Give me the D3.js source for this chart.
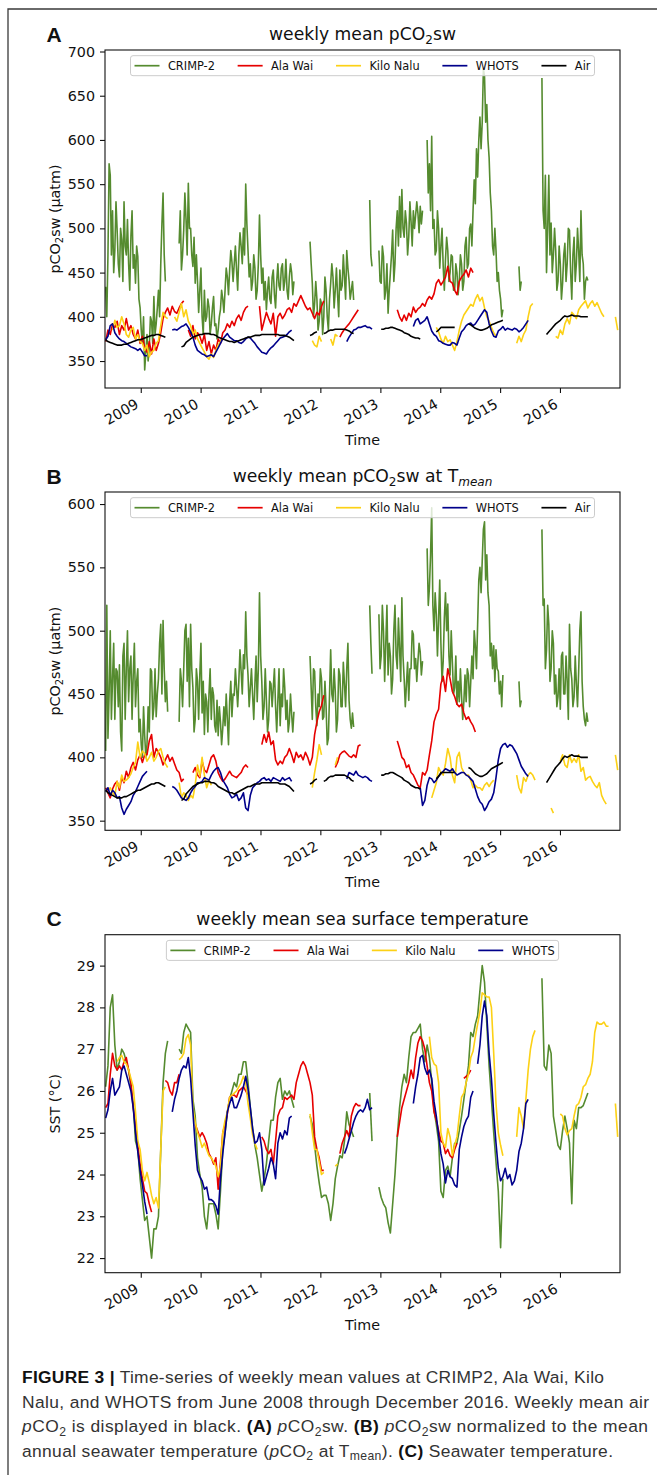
<!DOCTYPE html>
<html>
<head>
<meta charset="utf-8">
<script src="https://cdnjs.cloudflare.com/ajax/libs/d3/7.8.5/d3.min.js"></script>
<style>
html,body{margin:0;padding:0;background:#fff;}
svg{display:block;}
</style>
</head>
<body>
<svg id="fig" width="657" height="1475" xmlns="http://www.w3.org/2000/svg"></svg>
<script>
// ================= DATA =================
const stations = ["CRIMP-2", "Ala Wai", "Kilo Nalu", "WHOTS", "Air"];
const yearTicks = [2009, 2010, 2011, 2012, 2013, 2014, 2015, 2016];
const ticksA = [350, 400, 450, 500, 550, 600, 650, 700];
const ticksB = [350, 400, 450, 500, 550, 600];
const ticksC = [22, 23, 24, 25, 26, 27, 28, 29];
const gridStart = "2008-06-01";   // first sample of the sampling grids
const weeklyStepDays = 7;         // CRIMP-2 pCO2 series (A, B) are listed week by week
const biweeklyStepDays = 14;      // all other series are listed every second week
// every series = list of segments: [index of first grid sample, [values]]

// ---- A: weekly mean pCO2sw (uatm)
const crimpA = [   // weekly grid
  [0, [434,400,470,573,560,470,520,450,475,530,498,460,445,500,487,440,530,480,470,510,460,430,491,520,455,470,438,480,468,420,410,385,370,400,340,360,380,350,365,400,395,370,423,380,392,410,430,400,460,505,540,470,440]],
  [64, [483,520,453,470,498,540,510,470,551,500,500,470,457,490,438,470,440,405,430,455,400,380,430,395,400,420,411,380,392,410,423,390,392,375,385,400,408,430,420,405,430,455,445,425,453,475,462,440,460,480,453,430,470,495,480,460,500,470,550,505,475,445,460,430,440,470,455,420,430,460,515,470,438,455,419,440,408,430,445,420,415,445,453,425,410,440,460,435,430,455,460,430,440,465,430,420,445,460,450,425,440]],
  [178, [485,460,438,400,415,440,420,385,395,420,415,380,400,445,430,400,385,420,438,460,445,410,430,455,425,400,453,430,435,470,445,420,475,455,441,420,430,440,419]],
  [230, [532,470,457]],
  [238, [475,440,438,480,468,420,430,460,404,430,450,470,498,440,460,500,520,480,536,490,544,500,490,520,506,470,490,530,508,480,520,500,515,530,517,495,525,505,520]],
  [280, [600,540,573,520,604,500,510,470,475,520,500,455,480,500,457,430,465,490,475,440,450,470,468,430,430,460,450,425,440,470,460,430,440,480,490,455,460,500,505,480,520,555,528,590,558,600,626,590,620,680,672,620,640,600,580,540,520,480,470,500,475,440,450,430,420,400,408]],
  [360, [457,430,440]],
  [380, [670,520,500,560,450,500,560,470,506,450,470,500,475,430,440,480,460,420,438,470,483,440,460,500,498,450,420,470,490,440,460,500,475,440,520,470,460,420,440,445,441]]
];
const alaWaiA = [
  [0, [372,385,380,392,388,395,380,390,385,398,385,390,380,375,385,370,378,365,360,372,358,375,362,370,382,398,405,410,402,412,406,404,410,415,418]],
  [36, [385,378,390,375,382,378,370,380,362,372,358,368,362,375,370,382,385,392,388,395,390,398,402,396,405,410,412]],
  [67, [412,385,395,405,398,392,404,378,400,404,398,402,408,410,405,415,412,418,424,418,412,408,410,404,398,405,402,412,418]],
  [102, [377,382,386,389,392,396,400,404,408]],
  [127, [408,400,395,402,396,404,400,411,405,409,411,415,412,419,423,420,426,438,442,436,440,445,457,440,438,430,425,440,445,448,453,445,455,450]]
];
const kiloNaluA = [
  [3, [385,396,388,390,400,392,380,377,385,388,375,380,372,370,362,368,355,360,362,370,373,390,405,400,398]],
  [30, [400,395,405,415,400,408,395,390,380,385,375,370,365,360,355,352,358,354,362,368,372,375]],
  [90, [373,368,366,378,372]],
  [98, [375,368,380,378]],
  [144, [388,383,375,370,378,372,374,368,362,372,385,395,402,406,410,414,412,420,425,418,422,410,400,395,388,382,378]],
  [179, [370,378,372,380,385,400,412,415]],
  [196, [378,376,385,380,392,398,392,405,402,398,408,412,415,418,410,415,418,412,416,410,404,400]],
  [222, [400,385]]
];
const whotsA = [
  [0, [374,378,390,392,382,378,375,373,372,370,368,366,365,364,362,364,360,356,356]],
  [29, [385,386,385,387,389,390,392,388,383,377,368,362,360,358,357,355,356,357,355,360,365,370,375,378,381,377,375,373,373,371,370,372,375,377,376,373,370,366,363,360,359,358,362,365,367,370,373,376,377,378,380,383,385]],
  [105, [372,377,381,385,386,388,388,389,390,388,388,386]],
  [134, [389,396,398,392,394,396,400,392,384,380,378,373,372,370,369,368,368,371,370,368,376,383,386,390,392,393,390,392,396,400,404,408,405,392,384,378,377,384,386,389,385,387,386,385,387,386,383,385,388,392,396]]
];
// weekly mean air pCO2 (same series in panels A and B)
const airPCO2 = [
  [0, [374,372,371,370,369,368,368,368,369,369,370,371,372,373,374,374,375,376,377,378,379,379,380,380,379,378,377]],
  [33, [366,367,371,373,375,377,378,379,380,380,381,381,381,380,380,379,377,376,375,374,373,372,372,371,372,373,374,375,376,377,377,378,379,379,379,380,380,380,380,380,380,380,380,379,379,379,378,377,375,373]],
  [89, [379,380,382,383]],
  [95, [381,382,384,385,385,386,386,386,386,386,385,384,382,381]],
  [120, [386,386,387,387,388,388,387,386,385,384,382,381,380,378,377,376,376,375]],
  [144, [383,385,388,388,388,388,388,388,388]],
  [158, [392,391,389,387,386,385,385,386,387,389,391,392,393,394,395,396]],
  [192, [380,383,386,389,392,394,396,399,401,400,401,402,401,401,401,400,400,400,400]]
];

// ---- B: weekly mean pCO2sw at Tmean (uatm)
const crimpB = [   // weekly grid
  [0, [405,520,415,450,500,430,462,490,430,470,468,440,473,420,405,480,490,430,470,500,444,470,480,430,465,490,440,460,470,420,430,410,400,440,417,400,410,440,420,470,468,430,440,470,432,450,462,490,505,450,508,470,444,460,436]],
  [64, [428,470,460,440,470,500,505,460,494,440,505,470,455,420,430,470,460,430,465,490,435,460,418,450,444,420,450,470,430,455,449,425,420,445,417,440,428,410,423,440,425,450,430,410,444,460,432,450,449,470,455,440,460,485,468,450,481,470,515,480,465,440,455,470,449,430,458,480,444,470,530,480,460,430,440,470,445,420,430,460,458,440,455,470,440,420,445,470,425,450,440,470,455,430,445,420,428,450,434,420,436]],
  [178, [480,455,430,470,468,440,425,450,440,470,462,430,432,460,440,410,415,450,485,450,444,470,452,420,430,470,465,440,440,475,458,440,470,490,445,430,423,435,424]],
  [230, [520,490,466]],
  [238, [513,470,480,520,500,460,490,520,465,490,480,450,462,500,520,480,470,510,486,460,526,480,462,440,458,475,445,470,470,500,497,470,478,460,476,490,483,465,476]],
  [280, [565,520,534,560,597,520,500,530,513,480,510,540,490,460,476,510,530,500,521,480,465,500,475,450,455,480,442,460,444,470,448,430,444,465,444,470,465,440,460,480,462,500,488,470,505,540,550,530,555,580,586,540,560,530,520,480,490,470,488,460,485,470,468,450,460,440,465]],
  [360, [460,440,445]],
  [380, [580,520,525,470,485,520,505,460,470,500,490,450,465,440,448,470,438,480,483,450,450,480,460,430,505,470,462,440,448,480,458,440,468,500,515,460,440,430,425,435,428]]
];
const alaWaiB = [
  [0, [376,372,368,375,379,381,374,384,380,389,384,392,396,390,398,402,396,402,402,413,418,400,407,404,400,394,398,402,397,400,395,390,388,381,383]],
  [38, [388,392,386,384,397,390,388,394,400,402,397,388,384,381,383,386,389,386,385,384,386,388,392,394,392]],
  [68, [410,418,412,420,410,413,398,394,397,395,400,402,407,402,396,404,400,402,398,404,400,394,400,418,428,436,441,449]],
  [100, [392,396,402,404,405,403,401,400,402,400,409,410]],
  [127, [413,407,400,398,392,394,388,386,382,378,376,388,386,390,402,413,428,434,438,458,464,452,470,462,452,448,442,440,442,435,430,432,428,425,420]]
];
const kiloNaluB = [
  [1, [374,376,372,370,381,376,386,381,382,384,387,392,396,412,400,405,403,397,400,404,397,400,405,407,400,395,392]],
  [32, [380,368,372,370,366,370,368,378,394,385,400,386,376,382,378]],
  [90, [376,388,398,410,402]],
  [100, [394,400]],
  [142, [368,374,380,392,388,386,395,407,400,386,380,400,404,392,388,386,386,382,376,378,376,376,374,378,380,377,380,382]],
  [179, [386,376,372,384,381,386,388,386,382]],
  [194, [360,356]],
  [198, [397,402,394,392,402,396,399,396,402,389,392,382,384,385,381,378,376,380,370,366,363]],
  [222, [402,390]]
];
const whotsB = [
  [0, [373,376,370,374,372,368,369,360,355,359,362,365,370,373,377,381,385,387,389]],
  [29, [377,376,374,371,368,367,366,368,372,375,377,380,380,381,384,383,382,386,389,391,392,388,382,379,376,371,368,369,371,366,368,372,360,358,370,376,378,380,381,383,384,382,383,381,384,383,382,381,384,382,383,384,381]],
  [105, [383,388,387,386,389,386,385,384,385,384,382,381]],
  [137, [376,362,366,378,384,383,380,382,385,387,389,391,390,389,391,388,386,387,388,388,386,385,383,381,375,369,365,363,358,361,365,367,372,384,398,407,410,411,408,410,409,406,403,398,393,390,387,385]]
];

// ---- C: weekly mean sea surface temperature (degC)
const crimpC = [
  [0, [26.1,26.6,28.0,28.3,27.1,26.5,26.7,27.0,26.9,26.7,26.5,26.1,25.7,24.8,24.6,23.9,23.4,22.9,23.0,22.5,22.0,22.7,22.7,23.0,24.6,26.2,26.9,27.2]],
  [32, [27.0,26.9,27.4,27.6,27.5,27.4,25.8,25.4,24.4,24.0,23.7,23.0,22.7,23.3,23.3,23.3,23.05,22.7,23.6,24.6,25.0,25.5,25.8,26.0,26.2,26.1,26.4,26.4,26.7,26.7,26.2,25.6,25.1,24.7,24.4,24.0,23.6,23.9,24.25,24.8,25.3,25.3,25.85,26.2,26.3,25.8,26.0,25.9,26.0,25.8,25.6]],
  [89, [25.4,25.2,24.7,24.2,23.8,23.45,23.5,23.5,23.3,22.9,23.3,23.9,24.2,24.45,24.4,24.8,25.5,25.2,25.05,24.9]],
  [115, [25.95,24.8]],
  [119, [23.7,23.45,23.3,23.2,22.85,22.6,23.3,24.0,24.9,25.6,26.1,26.4,26.2,26.8,27.3,27.4,27.4,27.5,27.6,27.0,26.7,27.1,26.8,26.2,25.55,25.2,24.8,23.6,23.45,24.1,24.2,23.95,24.4,24.75,24.75,25.05,25.4,25.8,26.2,26.6,27.4,27.3,27.6,27.8,28.4,29.0,28.6,27.6,26.6,25.8,25.0,24.3,23.6,22.25,23.9]],
  [190, [28.7,26.6,26.5,27.1,26.9,25.4,25.05,24.7,24.6,25.05,25.4,25.1,24.75,23.3,25.3,25.1,25.6,25.6,25.65,25.8,25.95]]
];
const alaWaiC = [
  [0, [25.6,25.7,26.4,26.9,26.6,26.5,26.6,26.5,26.7,26.8,26.5,26.2,25.6,25.2,24.7,24.25,23.9,23.6,23.55,23.3,23.1]],
  [26, [26.25,26.2,26.0,25.9,26.2,26.2,26.4]],
  [39, [25.2,25.05,24.9,25.0,24.9,24.75,24.5,24.4,24.25,24.4,23.65,24.3,25.0,25.2,25.45,25.85,25.9,25.9,25.85,26.0,26.05,26.1,26.0,25.9]],
  [68, [24.9,24.8,24.6,24.5,24.6,24.25,24.8,25.4,25.55,25.6,25.85,25.8,25.85,25.9,25.8,26.2,26.4,26.6,26.7,26.6,26.4,26.2,25.9,24.9,24.6,24.4,24.1,24.1]],
  [102, [24.5,24.75,24.9,25.05,24.9,25.4,25.6,25.7,25.65,25.65]],
  [127, [24.9,25.25,25.6,25.8,26.0,26.2,26.5,26.3,26.8,27.15,27.3,27.2,27.0,26.6,26.2,26.0,25.5,25.3,25.05,24.8,24.75,24.5,24.6,24.45,24.4,24.6,24.75]],
  [156, [26.3,26.35,26.4,26.5]]
];
const kiloNaluC = [
  [5, [26.7,26.8,26.85,26.7,26.65,26.5,26.3,26.1,25.5,24.8,24.6,24.1,23.85,24.05,23.8,23.5,23.3,23.45,23.2,24.6,26.0,26.1]],
  [32, [26.75,26.8,26.9,27.25,27.35,27.1,25.6,25.25,25.0,24.85,24.65,24.75,24.6,24.45,24.4,24.3,24.2,23.95,24.2,25.0,25.3,25.5,25.85,25.9,25.95,26.0,26.1,26.2,26.35,26.2,25.7,25.35,24.95,24.75,24.6]],
  [89, [25.45,25.0,24.6,24.6,24.3,24.0,24.05]],
  [100, [24.2,24.25]],
  [141, [27.3,26.8,26.65,26.6,26.2,25.0,24.75,24.65,25.1,24.9,24.45,24.7,24.9,25.4,25.85,25.95,26.2,26.4,26.8,26.95,27.3,27.6,27.9,28.35,28.3,28.25,28.25,28.0,26.9,25.7,25.0,24.7,24.45]],
  [179, [24.9,25.6,25.4,25.1,25.8,26.5,27.0,27.3,27.45]],
  [198, [25.45,25.4,25.1,24.95,25.05,25.1,25.4,25.65,25.7,25.85,26.1,26.15,26.3,26.4,26.7,27.4,27.65,27.6,27.6,27.65,27.55,27.55]],
  [222, [25.7,24.9]]
];
const whotsC = [
  [0, [25.35,25.55,26.0,26.3,25.9,26.0,26.1,26.5,26.6,26.4,26.2,26.0,25.6,25.0,24.55,24.1,23.75,23.35,23.05]],
  [29, [25.5,25.8,26.0,26.3,26.5,26.6,26.55,26.8,26.3,25.5,24.7,24.1,23.95,23.85,23.65,23.7,23.4,23.4,23.35,23.25,23.05,23.9,24.5,25.0,25.5,25.7,25.85,25.6,25.6,25.75,25.9,26.1,26.35,26.05,25.6,25.1,24.75,24.8,25.0,24.6,23.75,23.95,24.15,24.4,24.25,23.9,24.75,25.0,24.85,25.05,24.95,25.35,25.4]],
  [104, [24.5,24.65,24.85,25.05,25.25,25.4,25.5,25.55,25.5,25.6,25.8,25.55,25.6]],
  [134, [25.7,26.1,26.4,26.8,26.85,26.55,26.4,26.5,26.3,25.75,25.4,24.95,24.5,24.25,23.8,24.1,23.95,23.9,23.75,23.7,24.6,24.9,25.15,25.3,25.4,25.85,26.0]],
  [162, [26.65,27.1,27.8,28.15,27.8,26.9,26.3,25.45,24.75,24.15,23.85,23.95,24.15,23.9,24.0,23.75,23.85,24.1,24.55,24.75,25.1,25.7,25.8]]
];

// caption text
const captionLines = [
  [["FIGURE 3 |","b"],[" Time-series of weekly mean values at CRIMP2, Ala Wai, Kilo"]],
  [["Nalu, and WHOTS from June 2008 through December 2016. Weekly mean air"]],
  [["p","i"],["CO"],["2","sub"],[" is displayed in black. "],["(A)","b"],[" "],["p","i"],["CO"],["2","sub"],["sw. "],["(B)","b"],[" "],["p","i"],["CO"],["2","sub"],["sw normalized to the mean"]],
  [["annual seawater temperature ("],["p","i"],["CO"],["2","sub"],[" at T"],["mean","sub"],["). "],["(C)","b"],[" Seawater temperature."]]
];

// ================= DRAWING =================
const colors = ["#558b2f", "#e60000", "#fcd116", "#00008b", "#000000"];
const SANS = "'DejaVu Sans', sans-serif";
const ARIAL = "'Liberation Sans', Arial, sans-serif";
const svg = d3.select("#fig");

const t0 = d3.timeParse("%Y-%m-%d")(gridStart);
const dateAt = (i, step) => d3.timeDay.offset(t0, i * step);

const plotL = 105, plotR = 620;
const x = d3.scaleTime().domain([new Date(2008, 4, 28), new Date(2017, 0, 1)]).range([plotL, plotR]);
const cxm = (plotL + plotR) / 2;

// outer figure frame (top and left edges visible)
svg.append("path").attr("d", "M8,1475 V9 H657")
  .attr("fill", "none").attr("stroke", "#3a3a3a").attr("stroke-width", 1.3);

function rich(sel, parts, size, opts = {}) {
  let shift = 0;
  parts.forEach(([s, kind]) => {
    const ts = sel.append("tspan").text(s);
    let target = 0;
    if (kind === "sub" || kind === "subi") {
      ts.attr("font-size", (size * 0.7).toFixed(2));
      target = size * 0.22;
    }
    if (kind === "subi" || kind === "i") ts.attr("font-style", "italic");
    if (kind === "b") { ts.attr("font-weight", "bold"); if (opts.boldFill) ts.attr("fill", opts.boldFill); }
    if (target !== shift) { ts.attr("dy", (target - shift).toFixed(2)); shift = target; }
  });
}

const meas = svg.append("text").attr("font-family", SANS).attr("visibility", "hidden");
function textW(s, fs) { meas.attr("font-size", fs).text(s); return meas.node().getComputedTextLength(); }

const W7 = weeklyStepDays, W14 = biweeklyStepDays;
const panels = [
  { letter: "A", top: 50, bottom: 388, dom: [319.5, 701.7], ticks: ticksA,
    title: [["weekly mean pCO"], ["2", "sub"], ["sw"]],
    ylabel: [["pCO"], ["2", "sub"], ["sw (µatm)"]],
    series: [[crimpA, W7], [alaWaiA, W14], [kiloNaluA, W14], [whotsA, W14], [airPCO2, W14]], names: stations },
  { letter: "B", top: 492, bottom: 830.3, dom: [342.4, 609.5], ticks: ticksB,
    title: [["weekly mean pCO"], ["2", "sub"], ["sw at T"], ["mean", "subi"]],
    ylabel: [["pCO"], ["2", "sub"], ["sw (µatm)"]],
    series: [[crimpB, W7], [alaWaiB, W14], [kiloNaluB, W14], [whotsB, W14], [airPCO2, W14]], names: stations },
  { letter: "C", top: 934.7, bottom: 1272.7, dom: [21.65, 29.74], ticks: ticksC,
    title: [["weekly mean sea surface temperature"]],
    ylabel: [["SST (°C)"]],
    series: [[crimpC, W14], [alaWaiC, W14], [kiloNaluC, W14], [whotsC, W14]], names: stations.slice(0, 4) }
];

panels.forEach((p, pi) => {
  const y = d3.scaleLinear().domain(p.dom).range([p.bottom, p.top]);
  const clipId = "clip" + pi;
  svg.append("clipPath").attr("id", clipId).append("rect")
    .attr("x", plotL).attr("y", p.top).attr("width", plotR - plotL).attr("height", p.bottom - p.top);

  // series lines
  const line = d3.line().x(d => x(d[0])).y(d => y(d[1]));
  const gl = svg.append("g").attr("clip-path", `url(#${clipId})`);
  p.series.forEach(([segs, step], si) => {
    segs.forEach(([start, vals]) => {
      const pts = vals.map((v, k) => [dateAt(start + k, step), v]);
      gl.append("path").datum(pts).attr("d", line)
        .attr("fill", "none").attr("stroke", colors[si])
        .attr("stroke-width", 1.6).attr("stroke-linejoin", "round").attr("stroke-linecap", "butt");
    });
  });

  // frame
  svg.append("rect").attr("x", plotL).attr("y", p.top)
    .attr("width", plotR - plotL).attr("height", p.bottom - p.top)
    .attr("fill", "none").attr("stroke", "#111").attr("stroke-width", 1.1);

  // y axis
  const gy = svg.append("g").attr("transform", `translate(${plotL},0)`)
    .call(d3.axisLeft(y).tickValues(p.ticks).tickSize(5).tickPadding(5).tickSizeOuter(0));
  gy.select(".domain").remove();
  gy.attr("font-family", SANS).attr("font-size", 14.3);
  gy.selectAll("line").attr("stroke", "#111").attr("stroke-width", 1.1);
  gy.selectAll("text").attr("fill", "#111");

  // x axis
  const gx = svg.append("g").attr("transform", `translate(0,${p.bottom})`)
    .call(d3.axisBottom(x).tickValues(yearTicks.map(yr => new Date(yr, 0, 1)))
      .tickFormat(d3.timeFormat("%Y")).tickSize(5).tickSizeOuter(0));
  gx.select(".domain").remove();
  gx.attr("font-family", SANS).attr("font-size", 14.3);
  gx.selectAll("line").attr("stroke", "#111").attr("stroke-width", 1.1);
  gx.selectAll("text").attr("x", 0).attr("y", 0).attr("dy", 0)
    .attr("text-anchor", "end").attr("fill", "#111")
    .attr("transform", "translate(-1.6,19) rotate(-30)");

  // x label
  svg.append("text").attr("x", cxm).attr("y", p.bottom + 57)
    .attr("text-anchor", "middle").attr("font-family", SANS).attr("font-size", 14.3)
    .attr("fill", "#111").text("Time");

  // y label
  const yl = svg.append("text")
    .attr("transform", `translate(55,${(p.top + p.bottom) / 2}) rotate(-90)`)
    .attr("text-anchor", "middle").attr("dy", "0.36em")
    .attr("font-family", SANS).attr("font-size", 14.3).attr("fill", "#111");
  rich(yl, p.ylabel, 14.3);

  // title
  const tt = svg.append("text").attr("x", cxm).attr("y", p.top - 10)
    .attr("text-anchor", "middle").attr("font-family", SANS).attr("font-size", 17.2).attr("fill", "#111");
  rich(tt, p.title, 17.2);

  // panel letter
  svg.append("text").attr("x", 46.5).attr("y", p.top - 8.5)
    .attr("font-family", ARIAL).attr("font-weight", "bold").attr("font-size", 21)
    .attr("fill", "#111").text(p.letter);

  // legend (upper center)
  const fs = 11.4, hl = 25, htp = 8.4, cs = 22.7, pad = 4;
  const widths = p.names.map(n => textW(n, fs));
  const total = d3.sum(widths) + p.names.length * (hl + htp) + cs * (p.names.length - 1);
  const left = cxm - total / 2;
  const ytop = p.top + 5.7, lh = 20, yc = ytop + lh / 2;
  const lg = svg.append("g");
  lg.append("rect").attr("x", left - pad).attr("y", ytop)
    .attr("width", total + 2 * pad).attr("height", lh).attr("rx", 2.5)
    .attr("fill", "#fff").attr("fill-opacity", 0.8)
    .attr("stroke", "#cccccc").attr("stroke-width", 1);
  let xx = left;
  p.names.forEach((n, i) => {
    lg.append("line").attr("x1", xx).attr("x2", xx + hl).attr("y1", yc).attr("y2", yc)
      .attr("stroke", colors[i]).attr("stroke-width", 1.7);
    lg.append("text").attr("x", xx + hl + htp).attr("y", yc + 4.1)
      .attr("font-family", SANS).attr("font-size", fs).attr("fill", "#111").text(n);
    xx += hl + htp + widths[i] + cs;
  });
});
meas.remove();

// caption
const capBase = [1383, 1407.5, 1432, 1456.5];
const capLen = [582, 627, 626, 591];
captionLines.forEach((parts, li) => {
  const t = svg.append("text").attr("x", 22).attr("y", capBase[li])
    .attr("font-family", ARIAL).attr("font-size", 17.4).attr("fill", "#333")
    .attr("textLength", capLen[li]).attr("lengthAdjust", "spacing");
  rich(t, parts, 17.4, { boldFill: "#111" });
});
</script>
</body>
</html>
